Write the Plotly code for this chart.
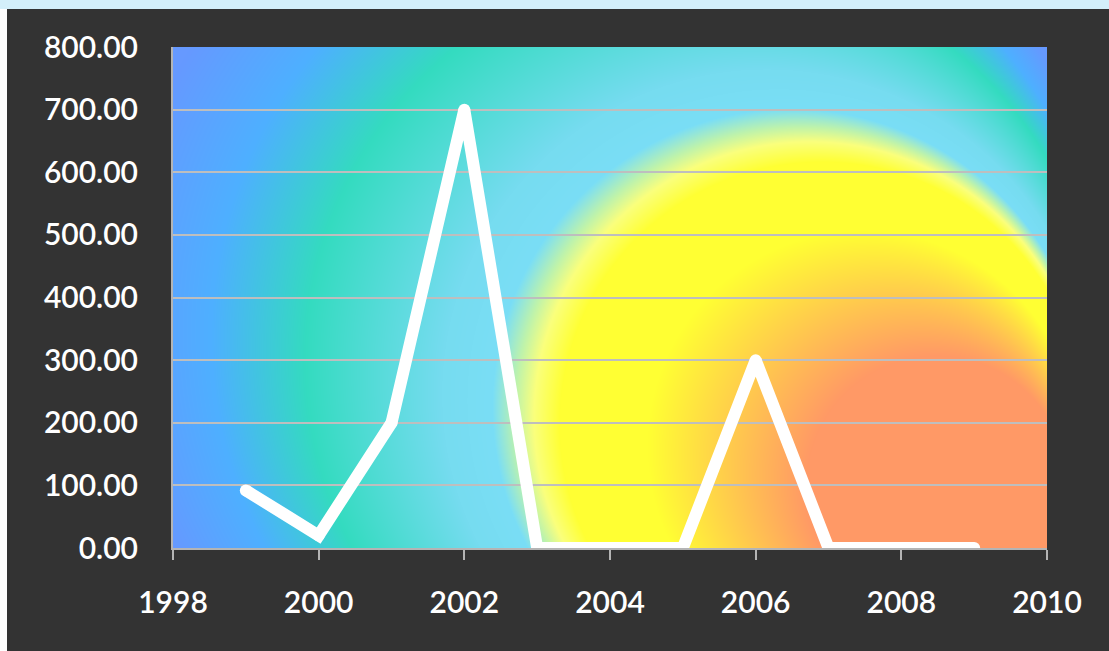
import base64
import struct
import zlib

import numpy as np
import plotly.graph_objects as go

# ---------------- data ----------------
years = [1999, 2000, 2001, 2002, 2003, 2004, 2005, 2006, 2007, 2008, 2009]
values = [92, 20, 200, 700, 0, 0, 0, 300, 0, 0, 0]
x_tick_vals = [1998, 2000, 2002, 2004, 2006, 2008, 2010]
y_tick_vals = [0, 100, 200, 300, 400, 500, 600, 700, 800]

# ---------------- layout constants ----------------
FIG_W, FIG_H = 1109, 651
M_L, M_R, M_T, M_B = 173, 62, 47, 103
PW, PH = FIG_W - M_L - M_R, FIG_H - M_T - M_B

BG = "#333333"
GRID = "#BEBEBE"
AXIS = "#B4B4B4"
FONT = "Lato"
LINE_W = 12

# ---------------- background gradient (decorative plot-area fill) ----------------
def gradient_png(w, h):
    xs = np.arange(w) + 0.5
    ys = np.arange(h) + 0.5
    X, Y = np.meshgrid(xs, ys)
    fx, fy = w + 3.0, h + 0.0          # focal point at the bottom-right corner
    ang = np.deg2rad(28.5)
    kx, ky = -0.99 * np.cos(ang), -0.99 * np.sin(ang)
    a = 1.0 - (kx * kx + ky * ky)
    qx, qy = X - fx, Y - fy
    qk = qx * kx + qy * ky
    qq = qx * qx + qy * qy
    rho = (-qk + np.sqrt(qk * qk + a * qq)) / a
    stops = [
        (0, (255, 153, 102)),
        (130, (255, 153, 102)),
        (215, (255, 255, 51)),
        (262, (255, 255, 51)),
        (276, (250, 255, 125)),
        (286, (190, 243, 172)),
        (298, (122, 222, 246)),
        (325, (118, 220, 240)),
        (398, (52, 219, 192)),
        (448, (78, 176, 255)),
        (500, (102, 153, 255)),
    ]
    pos = [s[0] for s in stops]
    img = np.zeros((h, w, 3), dtype=np.uint8)
    for c in range(3):
        img[:, :, c] = np.clip(np.interp(rho, pos, [s[1][c] for s in stops]), 0, 255).astype(np.uint8)
    rows = img.reshape(h, w * 3).astype(np.int16)
    sub = rows.copy()
    sub[:, 3:] = rows[:, 3:] - rows[:, :-3]
    sub = (sub % 256).astype(np.uint8)
    raw = b"".join(b"\x01" + sub[i].tobytes() for i in range(h))

    def chunk(t, d):
        return struct.pack(">I", len(d)) + t + d + struct.pack(">I", zlib.crc32(t + d) & 0xFFFFFFFF)

    png = (b"\x89PNG\r\n\x1a\n"
           + chunk(b"IHDR", struct.pack(">IIBBBBB", w, h, 8, 2, 0, 0, 0))
           + chunk(b"IDAT", zlib.compress(raw, 9))
           + chunk(b"IEND", b""))
    return "data:image/png;base64," + base64.b64encode(png).decode()


bg_src = gradient_png(PW, PH)

# ---------------- figure ----------------
fig = go.Figure()
fig.add_trace(go.Scatter(
    x=years, y=values, mode="lines+markers",
    line=dict(color="white", width=LINE_W),
    marker=dict(color="white", size=LINE_W, line=dict(width=0)),
    hoverinfo="skip", showlegend=False,
))


def px_to_paper_x(px):
    return (px - M_L) / PW


def px_to_paper_y(py):
    return (FIG_H - M_B - py) / PH


shapes = [
    dict(type="rect", xref="paper", yref="paper",
         x0=px_to_paper_x(0), x1=px_to_paper_x(7),
         y0=px_to_paper_y(FIG_H), y1=px_to_paper_y(0),
         fillcolor="#FFFFFF", line=dict(width=0), layer="below"),
    dict(type="rect", xref="paper", yref="paper",
         x0=px_to_paper_x(0), x1=px_to_paper_x(FIG_W),
         y0=px_to_paper_y(9), y1=px_to_paper_y(0),
         fillcolor="#D3EFFA", line=dict(width=0), layer="below"),
]

tick_font = dict(family=FONT, size=30, color="white", weight=600)

fig.update_layout(
    width=FIG_W, height=FIG_H, autosize=False,
    margin=dict(l=M_L, r=M_R, t=M_T, b=M_B, pad=0),
    paper_bgcolor=BG, plot_bgcolor="rgba(0,0,0,0)",
    font=dict(family=FONT, color="white", size=30),
    showlegend=False,
    shapes=shapes,
    images=[dict(source=bg_src, xref="paper", yref="paper", x=0, y=1,
                 sizex=1, sizey=1, xanchor="left", yanchor="top",
                 sizing="stretch", layer="below")],
)
fig.update_xaxes(
    range=[1998, 2010], tickvals=x_tick_vals, ticktext=[str(v) for v in x_tick_vals],
    showgrid=False, zeroline=False,
    showline=True, linecolor=AXIS, linewidth=2,
    ticks="outside", ticklen=10, tickwidth=2, tickcolor=AXIS,
    ticklabelstandoff=17,
    tickfont=tick_font,
)
fig.update_yaxes(
    range=[0, 800], tickvals=y_tick_vals, tickformat=".2f",
    showgrid=True, gridcolor=GRID, gridwidth=1.5, zeroline=False,
    showline=True, linecolor=AXIS, linewidth=2,
    ticks="", ticklabelstandoff=27,
    tickfont=tick_font,
)

fig.write_html("out.html", config={"displayModeBar": False},
               post_script="document.body.style.margin='0';")
